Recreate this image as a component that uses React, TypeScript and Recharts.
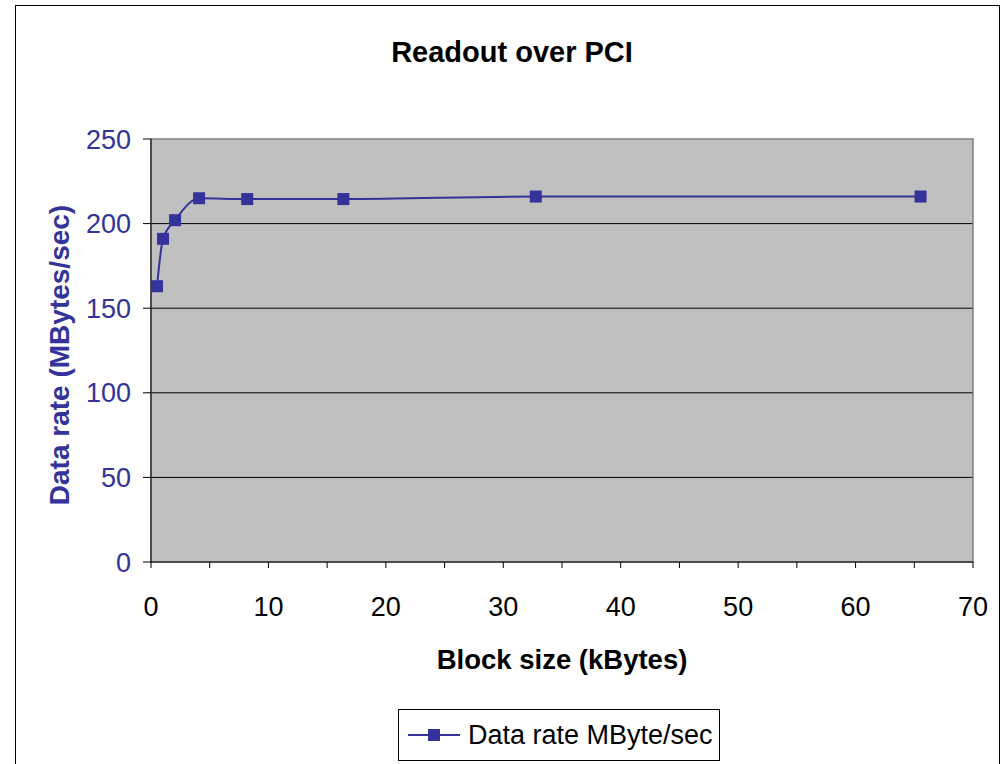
import React from 'react';
import { LineChart, Line, XAxis, YAxis, CartesianGrid, ReferenceArea, Legend } from 'recharts';

const blockSizes = [0.512, 1.024, 2.048, 4.096, 8.192, 16.384, 32.768, 65.536];
const dataRates = [163, 191, 202, 215, 214.5, 214.5, 216, 216];
const xTicks = [0, 5, 10, 15, 20, 25, 30, 35, 40, 45, 50, 55, 60, 65, 70];
const yTicks = [0, 50, 100, 150, 200, 250];

const data = blockSizes.map((x, i) => ({ x, rate: dataRates[i] }));

const FONT = '"Liberation Sans", Arial, sans-serif';
const BLUE = '#333399';

const Square = (props: any) => {
  const { cx, cy } = props;
  if (cx == null || cy == null) return null;
  return <rect x={cx - 6} y={cy - 6} width={12} height={12} fill={BLUE} />;
};

const LegendContent = () => (
  <div
    style={{
      position: 'absolute',
      left: 398,
      top: 709,
      width: 322,
      height: 52,
      border: '1px solid #000',
      background: '#fff',
      boxSizing: 'border-box',
      display: 'flex',
      alignItems: 'center',
      fontFamily: FONT,
      fontSize: 27,
      color: '#000',
      whiteSpace: 'nowrap',
    }}
  >
    <svg width={60} height={20} style={{ marginLeft: 9 }}>
      <line x1={0} y1={10} x2={52} y2={10} stroke={BLUE} strokeWidth={2} />
      <rect x={20} y={4} width={12} height={12} fill={BLUE} />
    </svg>
    <span style={{ marginLeft: 0 }}>Data rate MByte/sec</span>
  </div>
);

export default function App() {
  return (
    <div style={{ position: 'absolute', left: 0, top: 0, width: 1008, height: 764, background: '#fff', overflow: 'hidden' }}>
      <div
        style={{
          position: 'absolute',
          left: 15,
          top: 5,
          width: 985,
          height: 800,
          border: '1px solid #000',
          boxSizing: 'border-box',
        }}
      />
      <div
        style={{
          position: 'absolute',
          left: 0,
          width: 1024,
          top: 36,
          textAlign: 'center',
          fontFamily: FONT,
          fontWeight: 'bold',
          fontSize: 29,
          color: '#000',
        }}
      >
        Readout over PCI
      </div>
      <div
        style={{
          position: 'absolute',
          left: 151,
          width: 822,
          top: 644,
          textAlign: 'center',
          fontFamily: FONT,
          fontWeight: 'bold',
          fontSize: 27.5,
          color: '#000',
        }}
      >
        Block size (kBytes)
      </div>
      <div
        style={{
          position: 'absolute',
          left: 60,
          top: 355,
          transform: 'translate(-50%, -50%) rotate(-90deg)',
          whiteSpace: 'nowrap',
          fontFamily: FONT,
          fontWeight: 'bold',
          fontSize: 28,
          color: BLUE,
        }}
      >
        Data rate (MBytes/sec)
      </div>
      <div style={{ position: 'absolute', left: 0, top: 0 }}>
        <LineChart
          width={1008}
          height={764}
          data={data}
          margin={{ top: 139, right: 35, bottom: 142, left: 81 }}
          style={{ fontFamily: FONT }}
        >
          <CartesianGrid vertical={false} stroke="#000" fill="#C0C0C0" horizontalValues={[50, 100, 150, 200]} />
          <ReferenceArea x1={0} x2={70} y1={0} y2={250} fill="none" stroke="#808080" strokeWidth={1.5} ifOverflow="visible" />
          <XAxis
            type="number"
            dataKey="x"
            domain={[0, 70]}
            ticks={xTicks}
            interval={0}
            height={60}
            stroke="#000"
            tickLine={{ stroke: '#000' }}
            tickSize={6}
            tick={{ fill: '#000', fontSize: 27, fontFamily: FONT }}
            tickFormatter={(v: number) => (v % 10 === 0 ? String(v) : '')}
            tickMargin={29}
          />
          <YAxis
            type="number"
            domain={[0, 250]}
            ticks={yTicks}
            interval={0}
            width={70}
            stroke="#000"
            tickSize={8}
            tick={{ fill: BLUE, fontSize: 27, fontFamily: FONT }}
            tickMargin={12}
          />
          <Legend content={<LegendContent />} wrapperStyle={{ position: 'absolute', left: 0, top: 0, width: 0, height: 0 }} />
          <Line
            type="monotone"
            dataKey="rate"
            stroke={BLUE}
            strokeWidth={2}
            dot={<Square />}
            activeDot={false}
            isAnimationActive={false}
            name="Data rate MByte/sec"
          />
        </LineChart>
      </div>
    </div>
  );
}
